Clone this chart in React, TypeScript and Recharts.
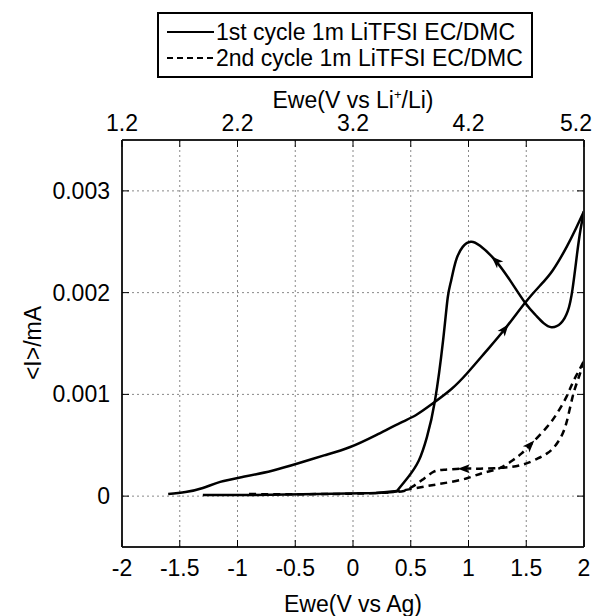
import React from 'react';
import { ComposedChart, Line, Scatter, XAxis, YAxis, CartesianGrid } from 'recharts';

// 1st cycle, forward sweep (Ewe vs Ag, current in mA)
const cycle1Forward = [
  { x: -1.6, y: 0.00002 }, { x: -1.45, y: 0.00004 }, { x: -1.3, y: 0.00008 },
  { x: -1.15, y: 0.00014 }, { x: -0.95, y: 0.00019 }, { x: -0.7, y: 0.00025 },
  { x: -0.48, y: 0.00032 }, { x: -0.25, y: 0.0004 }, { x: -0.03, y: 0.00048 },
  { x: 0.2, y: 0.0006 }, { x: 0.41, y: 0.00072 }, { x: 0.55, y: 0.0008 },
  { x: 0.69, y: 0.00091 }, { x: 0.85, y: 0.00105 }, { x: 0.99, y: 0.00121 },
  { x: 1.15, y: 0.00142 }, { x: 1.32, y: 0.00165 }, { x: 1.49, y: 0.0019 },
  { x: 1.62, y: 0.00207 }, { x: 1.73, y: 0.00222 }, { x: 1.85, y: 0.00245 },
  { x: 1.93, y: 0.00263 }, { x: 2.0, y: 0.0028 },
];

// 1st cycle, reverse sweep
const cycle1Reverse = [
  { x: 2.0, y: 0.0028 }, { x: 1.97, y: 0.00262 }, { x: 1.94, y: 0.00238 },
  { x: 1.9, y: 0.00203 }, { x: 1.86, y: 0.00182 }, { x: 1.8, y: 0.0017 },
  { x: 1.72, y: 0.00166 }, { x: 1.65, y: 0.0017 }, { x: 1.58, y: 0.00178 },
  { x: 1.49, y: 0.0019 }, { x: 1.36, y: 0.00212 }, { x: 1.23, y: 0.00232 },
  { x: 1.1, y: 0.00246 }, { x: 1.02, y: 0.0025 }, { x: 0.95, y: 0.00245 },
  { x: 0.89, y: 0.00231 }, { x: 0.85, y: 0.00212 }, { x: 0.82, y: 0.00195 },
  { x: 0.78, y: 0.00153 }, { x: 0.71, y: 0.00094 }, { x: 0.64, y: 0.00058 },
  { x: 0.57, y: 0.00035 }, { x: 0.48, y: 0.00019 }, { x: 0.38, y: 0.00005 },
];

const cycle1Tail = [
  { x: 0.38, y: 0.00005 }, { x: 0.2, y: 0.00003 }, { x: -0.3, y: 0.00002 },
  { x: -0.9, y: 0.00001 }, { x: -1.3, y: 0.00001 },
];

// 2nd cycle
const cycle2Forward = [
  { x: -0.9, y: 0.00002 }, { x: -0.3, y: 0.00002 }, { x: 0.2, y: 0.00003 },
  { x: 0.4, y: 0.00005 }, { x: 0.55, y: 0.00008 }, { x: 0.7, y: 0.00011 },
  { x: 0.85, y: 0.00014 }, { x: 1.0, y: 0.00018 }, { x: 1.13, y: 0.00023 },
  { x: 1.26, y: 0.00027 }, { x: 1.38, y: 0.00035 }, { x: 1.46, y: 0.00042 },
  { x: 1.55, y: 0.00052 }, { x: 1.68, y: 0.00068 }, { x: 1.77, y: 0.00082 },
  { x: 1.85, y: 0.00098 }, { x: 1.9, y: 0.00111 }, { x: 1.95, y: 0.00122 },
  { x: 2.0, y: 0.00133 },
];

const cycle2Reverse = [
  { x: 2.0, y: 0.00133 }, { x: 1.97, y: 0.00122 }, { x: 1.94, y: 0.00112 },
  { x: 1.9, y: 0.00097 }, { x: 1.85, y: 0.00073 }, { x: 1.8, y: 0.00058 },
  { x: 1.74, y: 0.00048 }, { x: 1.68, y: 0.00042 }, { x: 1.6, y: 0.00037 },
  { x: 1.47, y: 0.00031 }, { x: 1.3, y: 0.00028 }, { x: 1.1, y: 0.00027 },
  { x: 0.95, y: 0.00027 }, { x: 0.8, y: 0.00026 }, { x: 0.7, y: 0.00024 },
  { x: 0.6, y: 0.00016 }, { x: 0.51, y: 0.00009 }, { x: 0.44, y: 0.00005 },
  { x: 0.35, y: 0.00004 }, { x: 0.2, y: 0.00003 },
];

// arrow heads: position and the neighbouring point they point towards
const arrows = [
  { x: 1.32, y: 0.00165, tx: 1.49, ty: 0.0019 },
  { x: 1.23, y: 0.00232, tx: 1.1, ty: 0.00246 },
  { x: 1.54, y: 0.00051, tx: 1.68, ty: 0.00068 },
  { x: 0.95, y: 0.00027, tx: 0.8, ty: 0.00027 },
];

const xTicks = [-2, -1.5, -1, -0.5, 0, 0.5, 1, 1.5, 2];
const yTicks = [0, 0.001, 0.002, 0.003];
const liOffset = 3.2;

const W = 600;
const H = 616;
const PLOT = { left: 122, top: 140, width: 462, height: 407 };
const PX_PER_X = PLOT.width / 4;
const PX_PER_Y = PLOT.height / 0.004;
const FONT = '"Liberation Sans", Arial, sans-serif';
const FS = 23;

const BottomTick = (props: any) => {
  const { x, y, payload } = props;
  return (
    <g>
      <line x1={x} x2={x} y1={y} y2={y - 7} stroke="#000" strokeWidth={1} />
      <text x={x} y={y + 29} textAnchor="middle" fontSize={FS} fontFamily={FONT} fill="#000">
        {String(payload.value)}
      </text>
    </g>
  );
};

const TopTick = (props: any) => {
  const { x, y, payload } = props;
  const v = payload.value;
  const label = Number.isInteger(v) ? (v + liOffset).toFixed(1) : '';
  // the last label is pulled inwards, as in the original
  const lx = v === 2 ? x - 8 : x;
  return (
    <g>
      <line x1={x} x2={x} y1={y} y2={y + 7} stroke="#000" strokeWidth={1} />
      <text x={lx} y={y - 9} textAnchor="middle" fontSize={FS} fontFamily={FONT} fill="#000">
        {label}
      </text>
    </g>
  );
};

const LeftTick = (props: any) => {
  const { x, y, payload } = props;
  const v = payload.value;
  return (
    <g>
      <line x1={x} x2={x + 7} y1={y} y2={y} stroke="#000" strokeWidth={1} />
      <text x={x - 12} y={y + 8} textAnchor="end" fontSize={FS} fontFamily={FONT} fill="#000">
        {v === 0 ? '0' : v.toFixed(3)}
      </text>
    </g>
  );
};

const RightTick = (props: any) => {
  const { x, y } = props;
  return <line x1={x} x2={x - 7} y1={y} y2={y} stroke="#000" strokeWidth={1} />;
};

const ArrowHead = (props: any) => {
  const { cx, cy, payload } = props;
  if (cx == null || cy == null) return null;
  const ang = Math.atan2(-(payload.ty - payload.y) * PX_PER_Y, (payload.tx - payload.x) * PX_PER_X);
  return (
    <polygon
      points="5,0 -7,-4.5 -4,0 -7,4.5"
      fill="#000"
      transform={`translate(${cx},${cy}) rotate(${(ang * 180) / Math.PI})`}
    />
  );
};

export default function App() {
  const solid = { stroke: '#000', strokeWidth: 2.5, dot: false, activeDot: false, isAnimationActive: false, xAxisId: 'bottom', yAxisId: 'left', dataKey: 'y' };
  const dashed = { ...solid, strokeDasharray: '7 5' };
  const titleStyle: React.CSSProperties = { position: 'absolute', transform: 'translate(-50%, -50%)', fontSize: FS, lineHeight: 1, whiteSpace: 'nowrap' };
  return (
    // fixed to the viewport so that nothing can add scrollbars
    <div style={{ position: 'fixed', left: 0, top: 0, width: W, height: H, overflow: 'hidden', background: '#fff', fontFamily: FONT, color: '#000' }}>
      <ComposedChart
        width={W}
        height={H}
        margin={{ top: PLOT.top - 30, right: W - PLOT.left - PLOT.width - 10, bottom: H - PLOT.top - PLOT.height - 30, left: PLOT.left - 60 }}
      >
        <CartesianGrid xAxisId="bottom" yAxisId="left" stroke="#888" strokeDasharray="2 3" />
        <XAxis
          xAxisId="bottom"
          dataKey="x"
          type="number"
          domain={[-2, 2]}
          ticks={xTicks}
          interval={0}
          height={30}
          tickSize={0}
          tickMargin={0}
          tickLine={false}
          tick={<BottomTick />}
          axisLine={{ stroke: '#222', strokeWidth: 2 }}
          allowDataOverflow
        />
        <XAxis
          xAxisId="top"
          orientation="top"
          dataKey="x"
          type="number"
          domain={[-2, 2]}
          ticks={xTicks}
          interval={0}
          height={30}
          tickSize={0}
          tickMargin={0}
          tickLine={false}
          tick={<TopTick />}
          axisLine={{ stroke: '#222', strokeWidth: 2 }}
          allowDataOverflow
        />
        <YAxis
          yAxisId="left"
          type="number"
          domain={[-0.0005, 0.0035]}
          ticks={yTicks}
          interval={0}
          width={60}
          tickSize={0}
          tickMargin={0}
          tickLine={false}
          tick={<LeftTick />}
          axisLine={{ stroke: '#222', strokeWidth: 2 }}
          allowDataOverflow
        />
        <YAxis
          yAxisId="right"
          orientation="right"
          type="number"
          domain={[-0.0005, 0.0035]}
          ticks={yTicks}
          interval={0}
          width={10}
          tickSize={0}
          tickMargin={0}
          tickLine={false}
          tick={<RightTick />}
          axisLine={{ stroke: '#222', strokeWidth: 2 }}
          allowDataOverflow
        />
        <Line {...solid} data={cycle1Forward} type="natural" />
        <Line {...solid} data={cycle1Reverse} type="natural" />
        <Line {...solid} data={cycle1Tail} type="linear" />
        <Line {...dashed} data={cycle2Forward} type="natural" />
        <Line {...dashed} data={cycle2Reverse} type="natural" />
        <Scatter xAxisId="bottom" yAxisId="left" data={arrows} dataKey="y" shape={<ArrowHead />} isAnimationActive={false} />
      </ComposedChart>

      {/* legend */}
      <div style={{ position: 'absolute', left: 157, top: 12, width: 376, height: 66, border: '2px solid #000', boxSizing: 'border-box', background: '#fff' }}>
        {[{ label: '1st cycle 1m LiTFSI EC/DMC', dash: undefined, top: 18 }, { label: '2nd cycle 1m LiTFSI EC/DMC', dash: '6 4', top: 44 }].map((r) => (
          <div key={r.label} style={{ position: 'absolute', left: 8, top: r.top - 13, height: 26, display: 'flex', alignItems: 'center', whiteSpace: 'nowrap' }}>
            <svg width={48} height={26}>
              <line x1={0} x2={47} y1={13} y2={13} stroke="#000" strokeWidth={2} strokeDasharray={r.dash} />
            </svg>
            <span style={{ fontSize: FS, lineHeight: 1, marginLeft: 1 }}>{r.label}</span>
          </div>
        ))}
      </div>

      <div style={{ ...titleStyle, left: 353, top: 100 }}>
        Ewe(V vs Li<sup style={{ fontSize: 13, lineHeight: 0 }}>+</sup>/Li)
      </div>
      <div style={{ ...titleStyle, left: 353, top: 604 }}>Ewe(V vs Ag)</div>
      <div style={{ ...titleStyle, left: 33, top: 343, transform: 'translate(-50%, -50%) rotate(-90deg)' }}>
        &lt;I&gt;/mA
      </div>
    </div>
  );
}
